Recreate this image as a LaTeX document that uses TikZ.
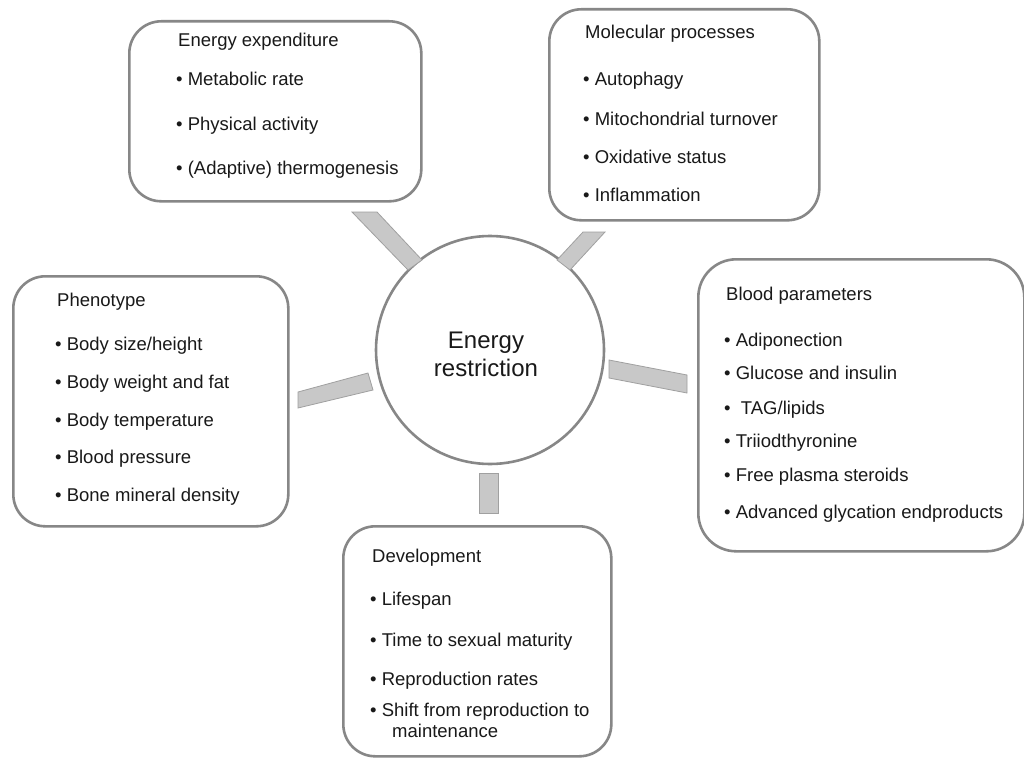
\documentclass[tikz,border=0pt]{standalone}
\usepackage{fontspec}
\setmainfont{Liberation Sans}
\begin{document}
\begin{tikzpicture}[x=1pt,y=-1pt,
  box/.style={draw=boxgray, line width=2.6pt, rounded corners=32pt, anchor=north west, inner sep=0pt},
  hub/.style={draw=boxgray, line width=2.6pt, circle, inner sep=0pt, minimum size=228pt},
  txt/.style={anchor=base west, inner sep=0pt, text=txtcol, font=\fontsize{18.5}{22}\selectfont},
  bar/.style={fill=barfill, draw=baredge, line width=0.8pt, line join=miter}]
\definecolor{boxgray}{RGB}{135,135,135}
\definecolor{txtcol}{RGB}{25,25,25}
\definecolor{barfill}{RGB}{200,200,200}
\definecolor{baredge}{RGB}{160,160,160}
\useasboundingbox (0,0) rectangle (1024,757);
\fill[white] (0,0) rectangle (1024,757);

% centre
\node[hub] (hub) at (490,350) {};
\node[align=center, text=txtcol, font=\fontsize{24}{28}\selectfont, inner sep=0pt] (hubtxt) at (486,354) {Energy\\restriction};

% boxes
\node[box, minimum width=292pt, minimum height=180pt] (ee) at (128,20) {};
\node[box, minimum width=270pt, minimum height=211pt] (mp) at (548,8) {};
\node[box, minimum width=275pt, minimum height=250pt] (ph) at (12,275) {};
\node[box, rounded corners=38pt, minimum width=326pt, minimum height=292pt] (bp) at (697,258) {};
\node[box, minimum width=268pt, minimum height=230pt] (dv) at (342,525) {};

% connector bars
\draw[bar] (352,212) -- (377,212) -- (422,260) -- (408,270) -- cycle;
\draw[bar] (583,232) -- (605,232) -- (570,270) -- (557,260) -- cycle;
\draw[bar] (609,360) -- (687,375) -- (687,393) -- (609,378) -- cycle;
\draw[bar] (298,392) -- (368,373) -- (373,390) -- (298,408) -- cycle;
\draw[bar] (479,473) rectangle (498,513);

% Energy expenditure
\node[txt] (ee0) at (178,47) {Energy expenditure};
\node[txt] (ee1) at (176,86) {• Metabolic rate};
\node[txt] (ee2) at (176,130) {• Physical activity};
\node[txt] (ee3) at (176,174) {• (Adaptive) thermogenesis};

% Molecular processes
\node[txt] (mp0) at (585,39) {Molecular processes};
\node[txt] (mp1) at (583,86) {• Autophagy};
\node[txt] (mp2) at (583,125) {• Mitochondrial turnover};
\node[txt] (mp3) at (583,163) {• Oxidative status};
\node[txt] (mp4) at (583,201) {• Inflammation};

% Phenotype
\node[txt] (ph0) at (57,306) {Phenotype};
\node[txt] (ph1) at (55,350) {• Body size/height};
\node[txt] (ph2) at (55,388) {• Body weight and fat};
\node[txt] (ph3) at (55,426) {• Body temperature};
\node[txt] (ph4) at (55,463) {• Blood pressure};
\node[txt] (ph5) at (55,501) {• Bone mineral density};

% Blood parameters
\node[txt] (bp0) at (726,300) {Blood parameters};
\node[txt] (bp1) at (724,346) {• Adiponection};
\node[txt] (bp2) at (724,379) {• Glucose and insulin};
\node[txt] (bp3) at (724,414) {•\ \ TAG/lipids};
\node[txt] (bp4) at (724,447) {• Triiodthyronine};
\node[txt] (bp5) at (724,481) {• Free plasma steroids};
\node[txt] (bp6) at (724,518) {• Advanced glycation endproducts};

% Development
\node[txt] (dv0) at (372,562) {Development};
\node[txt] (dv1) at (370,605) {• Lifespan};
\node[txt] (dv2) at (370,646) {• Time to sexual maturity};
\node[txt] (dv3) at (370,685) {• Reproduction rates};
\node[txt] (dv4) at (370,716) {• Shift from reproduction to};
\node[txt] (dv5) at (392,737) {maintenance};
\end{tikzpicture}
\end{document}
